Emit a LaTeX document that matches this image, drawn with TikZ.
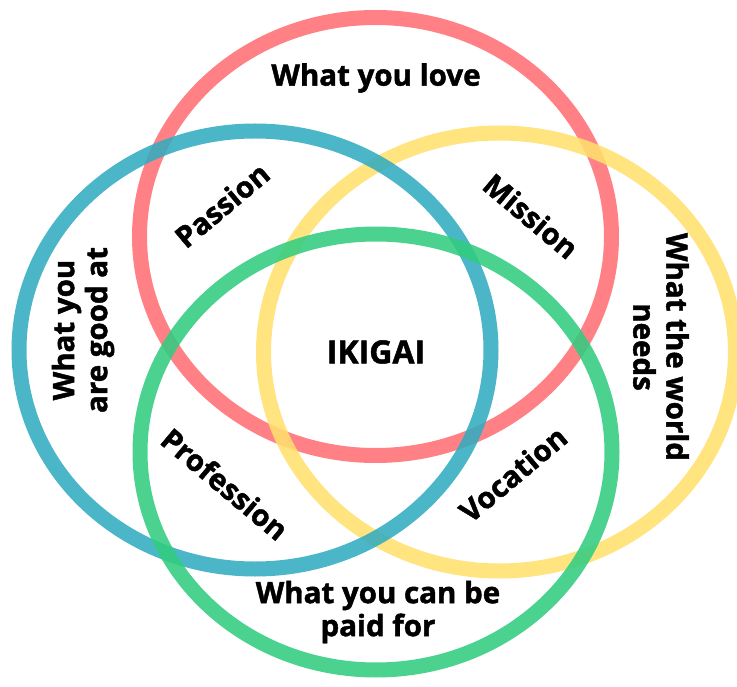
\documentclass[tikz,border=0pt]{standalone}
\usepackage{fontspec}
\setmainfont{Open Sans}[BoldFeatures={FakeBold=1.5}]
\definecolor{ikred}{RGB}{255,112,117}
\definecolor{ikblue}{RGB}{50,172,192}
\definecolor{ikyellow}{RGB}{255,224,110}
\definecolor{ikgreen}{RGB}{50,204,128}
\begin{document}
\begin{tikzpicture}[x=1pt,y=-1pt,
  ring/.style={line width=15pt,draw opacity=0.88},
  lbl/.style={font=\fontsize{29.5}{33}\selectfont\bfseries,align=center,text=black,inner sep=0pt}]
\useasboundingbox (0,0) rectangle (737,687);
\draw[ring,ikred] (375.5,236.5) ellipse [x radius=236,y radius=219];
\draw[ring,ikyellow] (499.5,352) ellipse [x radius=236,y radius=219];
\draw[ring,ikblue] (255,350) ellipse [x radius=236,y radius=219];
\draw[ring,ikgreen] (376,452) ellipse [x radius=236,y radius=218];
\node[lbl] (love) at (376,78) {What you love};
\node[lbl,rotate=40] (passion) at (222,205) {Passion};
\node[lbl,rotate=-40] (mission) at (531,216) {Mission};
\node[lbl,rotate=90] (good) at (83,330) {What you\\are good at};
\node[lbl,rotate=-90] (world) at (661,347) {What the world\\needs};
\node[lbl,font=\fontsize{32}{36}\selectfont\bfseries] (ikigai) at (376,352) {IKIGAI};
\node[lbl,rotate=-40] (profession) at (225,484) {Profession};
\node[lbl,rotate=40] (vocation) at (513,474) {Vocation};
\node[lbl] (paid) at (378,612) {What you can be\\paid for};
\end{tikzpicture}
\end{document}
